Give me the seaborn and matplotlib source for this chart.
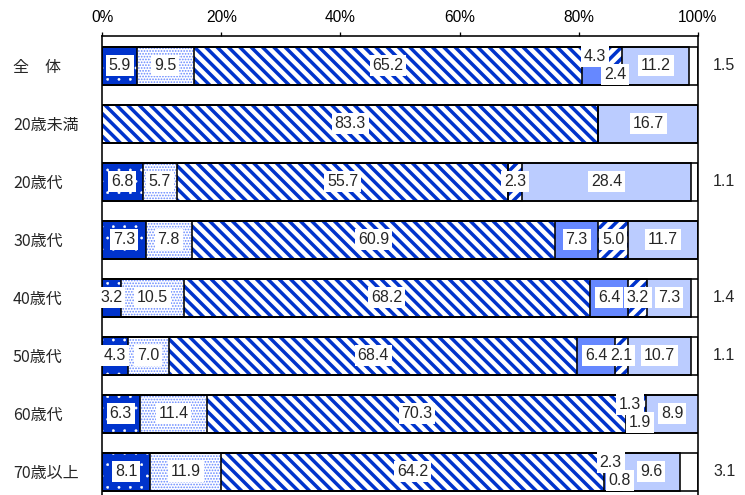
import numpy as np
import pandas as pd
import matplotlib
matplotlib.use("Agg")
import matplotlib as mpl
import matplotlib.pyplot as plt
import seaborn as sns

# ---------------- data ----------------
categories = ["全　体", "20歳未満", "20歳代", "30歳代", "40歳代", "50歳代", "60歳代", "70歳以上"]
seg1 = [5.9, 0.0, 6.8, 7.3, 3.2, 4.3, 6.3, 8.1]
seg2 = [9.5, 0.0, 5.7, 7.8, 10.5, 7.0, 11.4, 11.9]
seg3 = [65.2, 83.3, 55.7, 60.9, 68.2, 68.4, 70.3, 64.2]
seg4 = [4.3, 0.0, 0.0, 7.3, 6.4, 6.4, 1.3, 2.3]
seg5 = [2.4, 0.0, 2.3, 5.0, 3.2, 2.1, 1.9, 0.8]
seg6 = [11.2, 16.7, 28.4, 11.7, 7.3, 10.7, 8.9, 9.6]
seg7 = [1.5, 0.0, 1.1, 0.0, 1.4, 1.1, 0.0, 3.1]
tick_values = [0, 20, 40, 60, 80, 100]
tick_labels = ["0%", "20%", "40%", "60%", "80%", "100%"]

# ---------------- style ----------------
DPI = 68
W_PX, H_PX = 745, 495
PT = 72.0 / DPI  # points per pixel

sns.set_style("white")
plt.rcParams["font.family"] = ["Noto Sans CJK JP", "DejaVu Sans"]
NUM_FONT = ["Liberation Sans Narrow", "Liberation Sans", "DejaVu Sans"]

styles = [
    dict(face="#0033CC", hatch=".", hc="#FFFFFF", hlw=0.5),
    dict(face="#FFFFFF", hatch="....", hc="#6688FF", hlw=1.2),
    dict(face="#FFFFFF", hatch="\\\\", hc="#0033CC", hlw=3.7),
    dict(face="#6688FF", hatch=None, hc="#6688FF", hlw=1.0),
    dict(face="#FFFFFF", hatch="//", hc="#0033CC", hlw=3.7),
    dict(face="#BBCCFF", hatch=None, hc="#BBCCFF", hlw=1.0),
    dict(face="#FFFFFF", hatch=None, hc="#FFFFFF", hlw=1.0),
]
BAR_W = 0.655


def with_hatch_lw(patch, lw):
    orig = patch.draw

    def draw(renderer, _orig=orig, _lw=lw):
        with mpl.rc_context({"hatch.linewidth": _lw}):
            _orig(renderer)

    patch.draw = draw


fig = plt.figure(figsize=(W_PX / DPI, H_PX / DPI), dpi=DPI)
ax = fig.add_axes([102 / W_PX, 0, 596 / W_PX, 459 / H_PX])

segments = np.array([seg1, seg2, seg3, seg4, seg5, seg6, seg7])
cum = np.cumsum(segments, axis=0)

# fills: draw widest cumulative first so that each later bar covers the left part
for k in reversed(range(len(segments))):
    st = styles[k]
    df = pd.DataFrame({"cat": categories, "val": cum[k]})
    plt.rcParams["hatch.linewidth"] = st["hlw"]
    n0 = len(ax.patches)
    kw = dict(edgecolor=st["hc"], linewidth=0)
    if st["hatch"]:
        kw["hatch"] = st["hatch"]
    sns.barplot(data=df, x="val", y="cat", orient="h", color=st["face"],
                saturation=1, width=BAR_W, errorbar=None, ax=ax, **kw)
    for p in ax.patches[n0:]:
        with_hatch_lw(p, st["hlw"])

# outlines on top
for k in reversed(range(len(segments))):
    df = pd.DataFrame({"cat": categories, "val": cum[k]})
    sns.barplot(data=df, x="val", y="cat", orient="h", fill=False, color="black",
                linewidth=1.6 * PT, width=BAR_W, errorbar=None, ax=ax)

# value labels
label_fs = 16 * PT
box = dict(boxstyle="square,pad=0.18", fc="white", ec="none")
for i in range(len(categories)):
    stacked = 0 < segments[3, i] and 0 < segments[4, i] and segments[3, i] + segments[4, i] < 7
    for k in range(6):
        v = segments[k, i]
        if v <= 0:
            continue
        xc = cum[k, i] - v / 2
        yc = i
        if stacked and k == 3:
            yc = i - 0.16
        elif stacked and k == 4:
            yc = i + 0.16
        ax.text(xc, yc, f"{v:.1f}", ha="center", va="center", fontsize=label_fs,
                family=NUM_FONT, bbox=box, zorder=6)
    v7 = segments[6, i]
    if v7 > 0:
        ax.text(104.4, i, f"{v7:.1f}", ha="center", va="center", fontsize=label_fs,
                family=NUM_FONT, clip_on=False, zorder=6)

# axes cosmetics
ax.set_xlim(0, 100)
ax.set_ylim(7.405, -0.509)
ax.set_xlabel("")
ax.set_ylabel("")
ax.xaxis.tick_top()
ax.set_xticks(tick_values, tick_labels)
for t in ax.get_xticklabels():
    t.set_family(NUM_FONT)
ax.tick_params(axis="x", direction="out", length=4 * PT, width=1.3 * PT, pad=7 * PT,
               labelsize=15.5 * PT, colors="black")
ax.set_yticks(range(len(categories)), categories)
ax.tick_params(axis="y", length=0, pad=89 * PT, labelsize=16 * PT)
for t in ax.get_yticklabels():
    t.set_horizontalalignment("left")
for side in ["left", "top", "right"]:
    ax.spines[side].set_visible(True)
    ax.spines[side].set_color("black")
    ax.spines[side].set_linewidth(1.6 * PT)
ax.spines["bottom"].set_visible(False)
ax.grid(False)

fig.savefig("out.png", dpi=DPI)
